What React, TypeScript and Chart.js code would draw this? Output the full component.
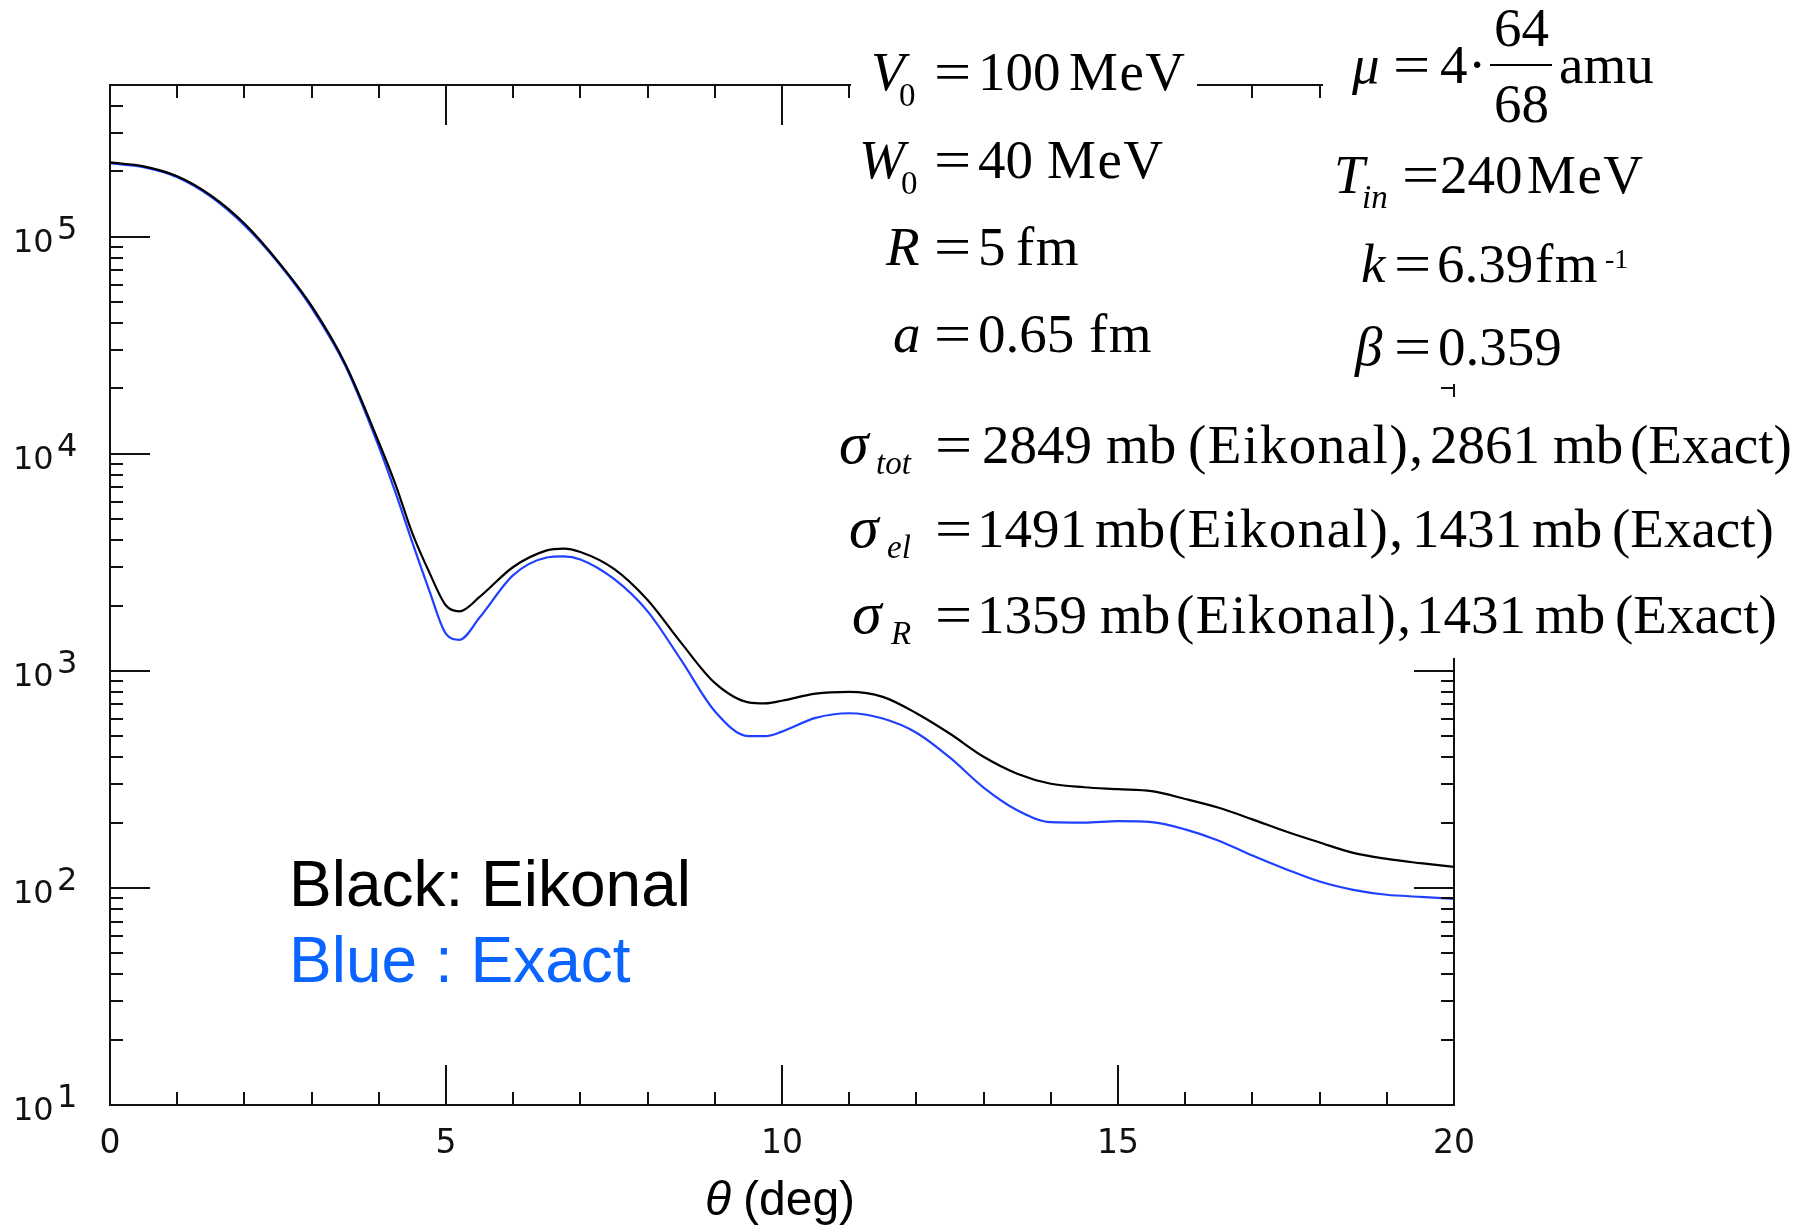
import React, { useEffect, useRef } from 'react';
import { Chart, registerables } from 'chart.js';

Chart.register(...registerables);

// ---------------- data ----------------
const thetaDeg = [0, 0.5, 1, 1.5, 2, 2.5, 3, 3.5, 4, 4.25, 4.5, 4.75, 5, 5.2, 5.5, 6, 6.5, 6.75, 7, 7.5, 8, 8.5, 9, 9.5, 9.75, 10, 10.5, 11, 11.5, 12, 12.5, 13, 13.5, 14, 14.5, 15, 15.5, 16, 16.5, 17, 17.5, 18, 18.5, 19, 19.5, 20];
const eikonal = [220000, 211000, 190000, 155000, 115000, 77000, 48000, 26000, 11300, 7200, 4300, 2850, 2000, 1880, 2190, 3010, 3590, 3660, 3530, 2950, 2120, 1345, 880, 716, 708, 728, 785, 800, 759, 638, 513, 402, 336, 302, 291, 285, 279, 257, 234, 207, 182, 162, 145, 136, 130, 125];
const exact = [218000, 209000, 188000, 153000, 113000, 76000, 47000, 25500, 10800, 6600, 3900, 2350, 1480, 1390, 1760, 2760, 3330, 3370, 3260, 2650, 1880, 1120, 652, 500, 500, 525, 607, 638, 603, 519, 398, 290, 228, 201, 200, 203, 201, 186, 165, 141, 122, 107, 98, 93, 91, 89];

const xTickValues = [0, 1, 2, 3, 4, 5, 6, 7, 8, 9, 10, 11, 12, 13, 14, 15, 16, 17, 18, 19, 20];
const xMajorValues = [0, 5, 10, 15, 20];
const xTickLabels = ['0', '5', '10', '15', '20'];
const yDecadeExponents = [1, 2, 3, 4, 5];
const yMinorMultipliers = [2, 3, 4, 5, 6, 7, 8, 9];
const yMin = 10;
const yMax = 500000;
const xAxisTitleSymbol = 'θ';
const xAxisTitleUnit = '(deg)';
const legendEikonal = 'Black: Eikonal';
const legendExact = 'Blue : Exact';

// annotation text tokens: [x, text, kind]
type Tok = [number, string, string];
const paramLines: { base: number; toks: Tok[] }[] = [
  { base: 90, toks: [[871, 'V', 'i'], [899, '0', 'sr'], [934, '=', 'eq'], [978, '100', 'r'], [1069, 'MeV', 'w']] },
  { base: 178, toks: [[859, 'W', 'i'], [901, '0', 'sr'], [934, '=', 'eq'], [978, '40', 'r'], [1047, 'MeV', 'w']] },
  { base: 265, toks: [[886, 'R', 'i'], [934, '=', 'eq'], [978, '5', 'r'], [1016, 'fm', 'w']] },
  { base: 352, toks: [[893, 'a', 'i'], [934, '=', 'eq'], [978, '0.65', 'r'], [1089, 'fm', 'w']] },
  { base: 83, toks: [[1352, 'μ', 'i'], [1393, '=', 'eq'], [1440, '4', 'r'], [1468, '·', 'r'], [1559, 'amu', 'r']] },
  { base: 193, toks: [[1334, 'T', 'i'], [1362, 'in', 'si'], [1402, '=', 'eq'], [1440, '240', 'r'], [1527, 'MeV', 'w']] },
  { base: 282, toks: [[1361, 'k', 'i'], [1394, '=', 'eq'], [1437, '6.39', 'r'], [1535, 'fm', 'w'], [1605, '-1', 'sup']] },
  { base: 365, toks: [[1355, 'β', 'i'], [1394, '=', 'eq'], [1438, '0.359', 'r']] },
  { base: 463, toks: [[839, 'σ', 'ig'], [876, 'tot', 'ssi'], [935, '=', 'eq'], [982, '2849', 'r'], [1106, 'mb', 'r'], [1188, '(Eikonal),', 'w'], [1430, '2861', 'r'], [1553, 'mb', 'r'], [1630, '(Exact)', 'r']] },
  { base: 547, toks: [[849, 'σ', 'ig'], [887, 'el', 'ssi'], [935, '=', 'eq'], [977, '1491', 'r'], [1095, 'mb', 'r'], [1168, '(Eikonal),', 'w'], [1412, '1431', 'r'], [1532, 'mb', 'r'], [1612, '(Exact)', 'r']] },
  { base: 633, toks: [[852, 'σ', 'ig'], [891, 'R', 'ssi'], [935, '=', 'eq'], [977, '1359', 'r'], [1100, 'mb', 'r'], [1176, '(Eikonal),', 'w'], [1416, '1431', 'r'], [1535, 'mb', 'r'], [1615, '(Exact)', 'r']] },
];
const fractionNum = '64';
const fractionDen = '68';

// ---------------- layout constants ----------------
const W = 1799;
const H = 1226;
const SERIF = '"Liberation Serif", "Times New Roman", serif';
const SANS = '"Liberation Sans", Arial, sans-serif';
const TICKFONT = '"DejaVu Sans", sans-serif';
const MAIN = 55;
const SUB = 33;

function drawTok(ctx: CanvasRenderingContext2D, x: number, base: number, t: string, kind: string) {
  let size = MAIN, italic = false, dy = 0, ls = 0, sx = 1;
  if (kind === 'i') italic = true;
  if (kind === 'ig') { italic = true; size = 60; }
  if (kind === 'w') ls = 1.5;
  if (kind === 'eq') sx = 1.2;
  if (kind === 'sr') { size = SUB; dy = 16; }
  if (kind === 'si') { size = SUB; italic = true; dy = 15; }
  if (kind === 'ssi') { size = SUB; italic = true; dy = 11; }
  if (kind === 'sup') { size = 28; dy = -14; }
  ctx.save();
  ctx.font = `${italic ? 'italic ' : ''}${size}px ${SERIF}`;
  (ctx as any).letterSpacing = `${ls}px`;
  ctx.translate(x, base + dy);
  ctx.scale(sx, 1);
  ctx.fillText(t, 0, 0);
  ctx.restore();
}

const overlayPlugin = {
  id: 'overlay',
  afterDraw(chart: any) {
    const ctx: CanvasRenderingContext2D = chart.ctx;
    const { left, right, top, bottom } = chart.chartArea;
    const xs = chart.scales.x;
    const ys = chart.scales.y;
    ctx.save();
    // frame and ticks
    ctx.strokeStyle = '#111';
    ctx.lineWidth = 2;
    ctx.beginPath();
    ctx.rect(left, top, right - left, bottom - top);
    for (const v of xTickValues) {
      const px = Math.round(xs.getPixelForValue(v));
      const len = xMajorValues.includes(v) ? 40 : 13;
      ctx.moveTo(px, bottom); ctx.lineTo(px, bottom - len);
      ctx.moveTo(px, top); ctx.lineTo(px, top + len);
    }
    for (const e of yDecadeExponents) {
      for (const m of [1, ...yMinorMultipliers]) {
        const v = m * Math.pow(10, e);
        if (v > yMax * 1.0001) continue;
        const py = Math.round(ys.getPixelForValue(v));
        const len = m === 1 ? 40 : 13;
        ctx.moveTo(left, py); ctx.lineTo(left + len, py);
        ctx.moveTo(right, py); ctx.lineTo(right - len, py);
      }
    }
    ctx.stroke();

    // tick labels
    ctx.fillStyle = '#111';
    ctx.textBaseline = 'alphabetic';
    ctx.font = `33px ${TICKFONT}`;
    ctx.textAlign = 'center';
    xMajorValues.forEach((v, i) => {
      ctx.fillText(xTickLabels[i], xs.getPixelForValue(v), bottom + 48);
    });
    ctx.textAlign = 'left';
    ctx.font = `32px ${TICKFONT}`;
    for (const e of yDecadeExponents) {
      const py = ys.getPixelForValue(Math.pow(10, e));
      ctx.fillText('10', 13, py + 15);
      ctx.fillText(String(e), 57, py + 2);
    }

    // axis title
    ctx.fillStyle = '#000';
    ctx.font = `italic 48px ${SANS}`;
    ctx.fillText(xAxisTitleSymbol, 705, 1215);
    ctx.font = `48px ${SANS}`;
    ctx.fillText(xAxisTitleUnit, 743, 1215);

    // legend text
    ctx.font = `64px ${SANS}`;
    ctx.fillStyle = '#000';
    ctx.fillText(legendEikonal, 289, 906);
    ctx.fillStyle = '#0a64ff';
    ctx.fillText(legendExact, 289, 982);

    // white annotation boxes
    ctx.fillStyle = '#ffffff';
    ctx.fillRect(851, 0, 346, 372);
    ctx.fillRect(1323, 0, W - 1323, 384);
    ctx.fillRect(829, 397, W - 829, 261);

    // annotation text
    ctx.fillStyle = '#000';
    ctx.textAlign = 'left';
    for (const line of paramLines) {
      for (const [x, t, k] of line.toks) drawTok(ctx, x, line.base, t, k);
    }
    ctx.font = `${MAIN}px ${SERIF}`;
    ctx.fillText(fractionNum, 1494, 46);
    ctx.fillText(fractionDen, 1494, 122);
    ctx.fillRect(1490, 64, 62, 2);
    ctx.restore();
  },
};

export default function App() {
  const ref = useRef<HTMLCanvasElement | null>(null);
  useEffect(() => {
    document.body.style.margin = '0';
    document.body.style.overflow = 'hidden';
    const canvas = ref.current;
    if (!canvas) return;
    const chart = new Chart(canvas, {
      type: 'line',
      data: {
        datasets: [
          {
            label: 'Eikonal',
            data: thetaDeg.map((t, i) => ({ x: t, y: eikonal[i] })),
            borderColor: '#000000',
            borderWidth: 2.2,
            pointRadius: 0,
            cubicInterpolationMode: 'monotone',
            fill: false,
          },
          {
            label: 'Exact',
            data: thetaDeg.map((t, i) => ({ x: t, y: exact[i] })),
            borderColor: '#1f40ff',
            borderWidth: 2.2,
            pointRadius: 0,
            cubicInterpolationMode: 'monotone',
            fill: false,
          },
        ],
      },
      options: {
        animation: false,
        responsive: false,
        devicePixelRatio: 1,
        layout: { padding: { left: 110, top: 85, right: W - 1454, bottom: H - 1105 } },
        plugins: { legend: { display: false }, tooltip: { enabled: false } },
        events: [],
        scales: {
          x: { type: 'linear', min: 0, max: 20, display: false },
          y: { type: 'logarithmic', min: yMin, max: yMax, display: false },
        },
      },
      plugins: [overlayPlugin],
    } as any);
    return () => chart.destroy();
  }, []);
  return (
    <div style={{ position: 'absolute', left: 0, top: 0, width: W, height: H, background: '#fff' }}>
      <canvas ref={ref} width={W} height={H} style={{ width: W, height: H, display: 'block' }} />
    </div>
  );
}
